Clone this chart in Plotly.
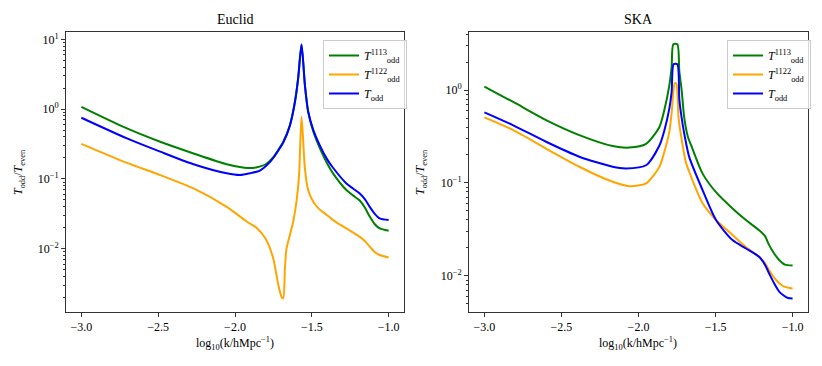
import numpy as np
import plotly.graph_objects as go

# ---- data (x = log10 k, values stored as log10 of T_odd/T_even)
# Euclid panel
eu_x_1113 = [-3.0, -2.703, -2.487, -2.27, -2.054, -1.95, -1.903, -1.85, -1.80, -1.75, -1.72,
             -1.686, -1.643, -1.61, -1.589, -1.567, -1.545, -1.524, -1.49, -1.448, -1.40,
             -1.362, -1.275, -1.23, -1.188, -1.155, -1.123, -1.09, -1.058, -1.0]
eu_log_1113 = [0.033, -0.277, -0.468, -0.635, -0.79, -0.835, -0.845, -0.83, -0.79, -0.69, -0.59,
               -0.468, -0.23, 0.105, 0.44, 0.927, 0.344, -0.04, -0.325, -0.56, -0.78,
               -0.92, -1.16, -1.24, -1.31, -1.41, -1.54, -1.65, -1.71, -1.743]

eu_x_1122 = [-3.0, -2.703, -2.487, -2.27, -2.054, -1.924, -1.86, -1.80, -1.751, -1.718, -1.697,
             -1.686, -1.675, -1.665, -1.643, -1.621, -1.60, -1.583, -1.567, -1.545, -1.524,
             -1.49, -1.448, -1.40, -1.362, -1.275, -1.188, -1.155, -1.123, -1.09, -1.058, -1.0]
eu_log_1122 = [-0.497, -0.77, -0.945, -1.136, -1.40, -1.61, -1.70, -1.86, -2.14, -2.52, -2.69,
               -2.71, -2.28, -2.0, -1.805, -1.61, -1.33, -0.945, -0.11, -0.85, -1.16,
               -1.33, -1.44, -1.52, -1.59, -1.71, -1.83, -1.89, -1.97, -2.05, -2.09, -2.125]

eu_x_odd = [-3.0, -2.703, -2.487, -2.27, -2.054, -1.968, -1.903, -1.838, -1.773, -1.72, -1.686,
            -1.643, -1.61, -1.589, -1.567, -1.545, -1.524, -1.49, -1.448, -1.40, -1.362,
            -1.275, -1.23, -1.188, -1.155, -1.123, -1.09, -1.058, -1.0]
eu_log_odd = [-0.124, -0.42, -0.61, -0.79, -0.92, -0.945, -0.92, -0.88, -0.76, -0.60, -0.48,
              -0.24, 0.10, 0.44, 0.927, 0.344, -0.03, -0.30, -0.52, -0.72, -0.84,
              -1.065, -1.14, -1.21, -1.29, -1.40, -1.50, -1.566, -1.59]

# SKA panel
ska_x_1113 = [-3.0, -2.816, -2.6, -2.384, -2.168, -2.06, -1.951, -1.865, -1.833, -1.80, -1.785,
              -1.774, -1.748, -1.735, -1.72, -1.703, -1.68, -1.65, -1.584, -1.497, -1.39,
              -1.303, -1.217, -1.18, -1.152, -1.12, -1.087, -1.05, -1.0]
ska_log_1113 = [0.036, -0.126, -0.323, -0.485, -0.603, -0.62, -0.58, -0.40, -0.22, 0.05, 0.25,
                0.492, 0.492, 0.2, 0.0, -0.3, -0.5, -0.63, -0.90, -1.10, -1.275,
                -1.40, -1.51, -1.57, -1.67, -1.76, -1.83, -1.88, -1.89]

ska_x_1122 = [-3.0, -2.816, -2.6, -2.384, -2.168, -2.06, -1.951, -1.865, -1.833, -1.80, -1.785,
              -1.765, -1.755, -1.74, -1.724, -1.692, -1.671, -1.638, -1.584, -1.497, -1.39,
              -1.303, -1.217, -1.18, -1.152, -1.12, -1.087, -1.05, -1.0]
ska_log_1122 = [-0.295, -0.43, -0.63, -0.826, -0.988, -1.035, -1.005, -0.83, -0.67, -0.45, -0.25,
                0.072, 0.072, -0.3, -0.49, -0.78, -0.88, -1.02, -1.22, -1.40, -1.56,
                -1.69, -1.796, -1.86, -1.94, -2.02, -2.08, -2.12, -2.137]

ska_x_odd = [-3.0, -2.816, -2.6, -2.384, -2.168, -2.081, -1.951, -1.865, -1.833, -1.80, -1.785,
             -1.772, -1.748, -1.735, -1.72, -1.703, -1.671, -1.584, -1.497, -1.39, -1.303,
             -1.217, -1.18, -1.152, -1.12, -1.087, -1.06, -1.03, -1.0]
ska_log_odd = [-0.24, -0.377, -0.557, -0.718, -0.826, -0.844, -0.81, -0.60, -0.44, -0.2, -0.02,
               0.277, 0.277, -0.1, -0.3, -0.47, -0.72, -1.078, -1.40, -1.616, -1.706,
               -1.796, -1.88, -1.975, -2.08, -2.17, -2.21, -2.24, -2.245]

x_ticks = [-3.0, -2.5, -2.0, -1.5, -1.0]
x_ticktext = ["−3.0", "−2.5", "−2.0", "−1.5", "−1.0"]
y_ticks = [1e-2, 1e-1, 1, 10]
y_ticktext = ["10<sup>−2</sup>", "10<sup>−1</sup>", "10<sup>0</sup>", "10<sup>1</sup>"]

names = ["<i>T</i><sup>1113</sup><sub>odd</sub>",
         "<i>T</i><sup>1122</sup><sub>odd</sub>",
         "<i>T</i><sub>odd</sub>"]
colors = ["green", "orange", "blue"]

FONT = "Liberation Serif"
# the page body has an 8px margin, so the figure is drawn 8px in from the window corner
OFF = 8
W, H = 822 - OFF, 366 - OFF


def px(x):
    return (x - OFF) / W


def py(y):
    return 1 - (y - OFF) / H


fig = go.Figure()

panels = [
    ("x", "y", "legend", [(eu_x_1113, eu_log_1113), (eu_x_1122, eu_log_1122), (eu_x_odd, eu_log_odd)]),
    ("x2", "y2", "legend2", [(ska_x_1113, ska_log_1113), (ska_x_1122, ska_log_1122), (ska_x_odd, ska_log_odd)]),
]
for xa, ya, leg, series in panels:
    for (xs, ls), name, c in zip(series, names, colors):
        fig.add_trace(go.Scatter(x=xs, y=10 ** np.array(ls), mode="lines", name=name,
                                 line=dict(color=c, width=2, shape="spline", smoothing=0.7),
                                 xaxis=xa, yaxis=ya, legend=leg))

ydom = [py(312), py(32)]
axis_common = dict(showgrid=False, zeroline=False, showline=True, mirror=True,
                   linecolor="#333", linewidth=1, ticks="outside", ticklen=4,
                   tickcolor="#333", automargin=False,
                   tickfont=dict(family=FONT, size=12, color="black"))
minor = dict(ticks="outside", ticklen=2, dtick="D1", tickcolor="#333", showgrid=False)

fig.update_layout(
    width=W, height=H,
    margin=dict(l=0, r=0, t=0, b=0),
    plot_bgcolor="white", paper_bgcolor="white",
    font=dict(family=FONT, size=12, color="black"),
    xaxis=dict(domain=[px(66), px(404)], range=[-3.1, -0.9], tickvals=x_ticks,
               ticktext=x_ticktext, anchor="y", **axis_common),
    yaxis=dict(domain=ydom, type="log", range=[-2.907, 1.105], tickvals=y_ticks,
               ticktext=y_ticktext, anchor="x", minor=minor, **axis_common),
    xaxis2=dict(domain=[px(469), px(808)], range=[-3.1, -0.9], tickvals=x_ticks,
                ticktext=x_ticktext, anchor="y2", **axis_common),
    yaxis2=dict(domain=ydom, type="log", range=[-2.39, 0.625], tickvals=y_ticks,
                ticktext=y_ticktext, anchor="x2", minor=minor, **axis_common),
    legend=dict(x=px(323), y=py(40), xanchor="left", yanchor="top",
                bgcolor="rgba(255,255,255,0.8)", bordercolor="#ccc", borderwidth=1,
                font=dict(family=FONT, size=12), tracegroupgap=0),
    legend2=dict(x=px(727), y=py(40), xanchor="left", yanchor="top",
                 bgcolor="rgba(255,255,255,0.8)", bordercolor="#ccc", borderwidth=1,
                 font=dict(family=FONT, size=12), tracegroupgap=0),
    showlegend=True,
)

ann = dict(showarrow=False, xref="paper", yref="paper", xanchor="center", yanchor="middle")
xlab = "log<sub>10</sub>(k/hMpc<sup>−1</sup>)"
ylab = "<i>T</i><sub>odd</sub>/<i>T</i><sub>even</sub>"
fig.add_annotation(x=px(235), y=py(19), text="Euclid", font=dict(family=FONT, size=14), **ann)
fig.add_annotation(x=px(638), y=py(19), text="SKA", font=dict(family=FONT, size=14), **ann)
fig.add_annotation(x=px(235), y=py(343), text=xlab, font=dict(family=FONT, size=12), **ann)
fig.add_annotation(x=px(638), y=py(343), text=xlab, font=dict(family=FONT, size=12), **ann)
fig.add_annotation(x=px(19), y=py(172), text=ylab, textangle=-90,
                   font=dict(family=FONT, size=12), **ann)
fig.add_annotation(x=px(421), y=py(172), text=ylab, textangle=-90,
                   font=dict(family=FONT, size=12), **ann)

fig.write_html("out.html")
